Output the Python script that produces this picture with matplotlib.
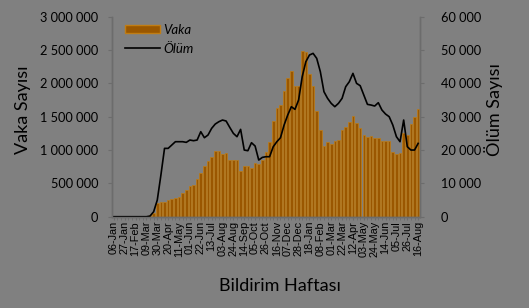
import numpy as np
import pandas as pd
import matplotlib
matplotlib.use("Agg")
import matplotlib.pyplot as plt
from matplotlib.ticker import FuncFormatter, FixedLocator
from matplotlib.patches import Patch
from matplotlib.lines import Line2D

# ── data (weekly) ─────────────────────────────────────────────────────────────
weeks = pd.date_range("2020-01-06", "2021-08-16", freq="7D")

cases = [
    0, 0, 0, 0, 0, 0, 0, 0, 0, 5000,
    20000, 60000, 200000, 225000, 225000, 250000, 270000, 275000, 290000, 350000,
    400000, 460000, 480000, 570000, 650000, 760000, 830000, 895000, 990000, 990000,
    945000, 950000, 850000, 850000, 850000, 690000, 760000, 755000, 735000, 800000,
    795000, 850000, 975000, 1115000, 1435000, 1625000, 1675000, 1885000, 2075000, 2185000,
    1960000, 1960000, 2485000, 2475000, 2140000, 1960000, 1585000, 1300000, 1060000, 1115000,
    1090000, 1135000, 1150000, 1300000, 1340000, 1415000, 1515000, 1400000, 1325000, 1225000,
    1200000, 1210000, 1185000, 1185000, 1135000, 1135000, 1135000, 975000, 940000, 952000,
    1250000, 1225000, 1390000, 1500000, 1615000,
]

deaths = [
    0, 0, 0, 0, 0, 0, 0, 0, 0, 0,
    200, 1500, 5000, 12500, 20500, 20500, 21500, 22500, 22500, 22500,
    22300, 23000, 22800, 23000, 25500, 23700, 24500, 26500, 27800, 28500,
    29000, 28700, 26800, 25000, 24000, 26200, 20000, 19800, 22200, 21200,
    17000, 17800, 18000, 18000, 21000, 22500, 23700, 27500, 30500, 33000,
    32200, 35000, 42000, 46500, 48500, 49000, 47500, 43500, 37500, 35500,
    34000, 33000, 34000, 35500, 39000, 40500, 43000, 40000, 39300, 36500,
    33700, 33500, 33200, 34200, 32000, 30800, 30000, 27500, 24000, 22500,
    29000, 21000, 20000, 20000, 22000,
]

week_labels = [d.strftime("%d-%b") for d in weeks]

# ── style ─────────────────────────────────────────────────────────────────────
BG = "#808080"
AXIS = "#6c6c6c"
BAR = "#9a5700"
BAR_EDGE = "#c07d14"
plt.rcParams["font.family"] = ["Lato", "DejaVu Sans"]

fig = plt.figure(figsize=(5.29, 3.08), dpi=100, facecolor=BG)
ax = fig.add_axes([0.2117, 0.2964, 0.5822, 0.6494])
ax.set_facecolor(BG)
ax2 = ax.twinx()

x = np.arange(len(weeks))
edges = [BAR_EDGE if v > 0 else "none" for v in cases]
ax.bar(x, cases, width=0.72, color=BAR, edgecolor=edges, linewidth=0.5)
ax2.plot(x, deaths, color="black", linewidth=1.2)

ax.set_xlim(-0.5, len(weeks) - 0.5)
ax.set_ylim(0, 3_000_000)
ax2.set_ylim(0, 60_000)
ax.set_yticks(np.arange(0, 3_000_001, 500_000))
ax2.set_yticks(np.arange(0, 60_001, 10_000))

fmt = FuncFormatter(lambda v, p: f"{int(v):,}".replace(",", " "))
ax.yaxis.set_major_formatter(fmt)
ax2.yaxis.set_major_formatter(fmt)

ax.xaxis.set_major_locator(FixedLocator(x[::3]))
ax.set_xticklabels(week_labels[::3], rotation=90, fontsize=7.8,
                   family=["Liberation Sans", "DejaVu Sans"])
ax.xaxis.set_minor_locator(FixedLocator(x))
ax.tick_params(axis="x", which="both", length=2, color=AXIS, pad=1)
ax.tick_params(axis="y", length=3, color=AXIS, labelsize=9.2, pad=7)
ax2.tick_params(axis="y", length=3, color=AXIS, labelsize=9.2, pad=12)

for a in (ax, ax2):
    a.spines["top"].set_visible(False)
    for s in ("left", "right", "bottom"):
        a.spines[s].set_color(AXIS)
        a.spines[s].set_linewidth(1.0)

fig.text(23 / 529, 1 - 110 / 308, "Vaka Sayısı", rotation=90, fontsize=13,
         ha="center", va="center")
fig.text(494 / 529, 1 - 110 / 308, "Ölüm Sayısı", rotation=90, fontsize=13,
         ha="center", va="center")
fig.text(280 / 529, 1 - 286 / 308, "Bildirim Haftası", fontsize=13,
         ha="center", va="center")

handles = [Patch(facecolor=BAR, edgecolor=BAR_EDGE, label="Vaka"),
           Line2D([0], [0], color="black", linewidth=1.2, label="Ölüm")]
ax2.legend(handles=handles, loc="upper left", bbox_to_anchor=(0.005, 1.025),
           frameon=False, prop={"style": "italic", "size": 9.5},
           handlelength=2.6, handleheight=0.6, handletextpad=0.3, labelspacing=0.55)

fig.savefig("out.png", dpi=100, facecolor=BG)
